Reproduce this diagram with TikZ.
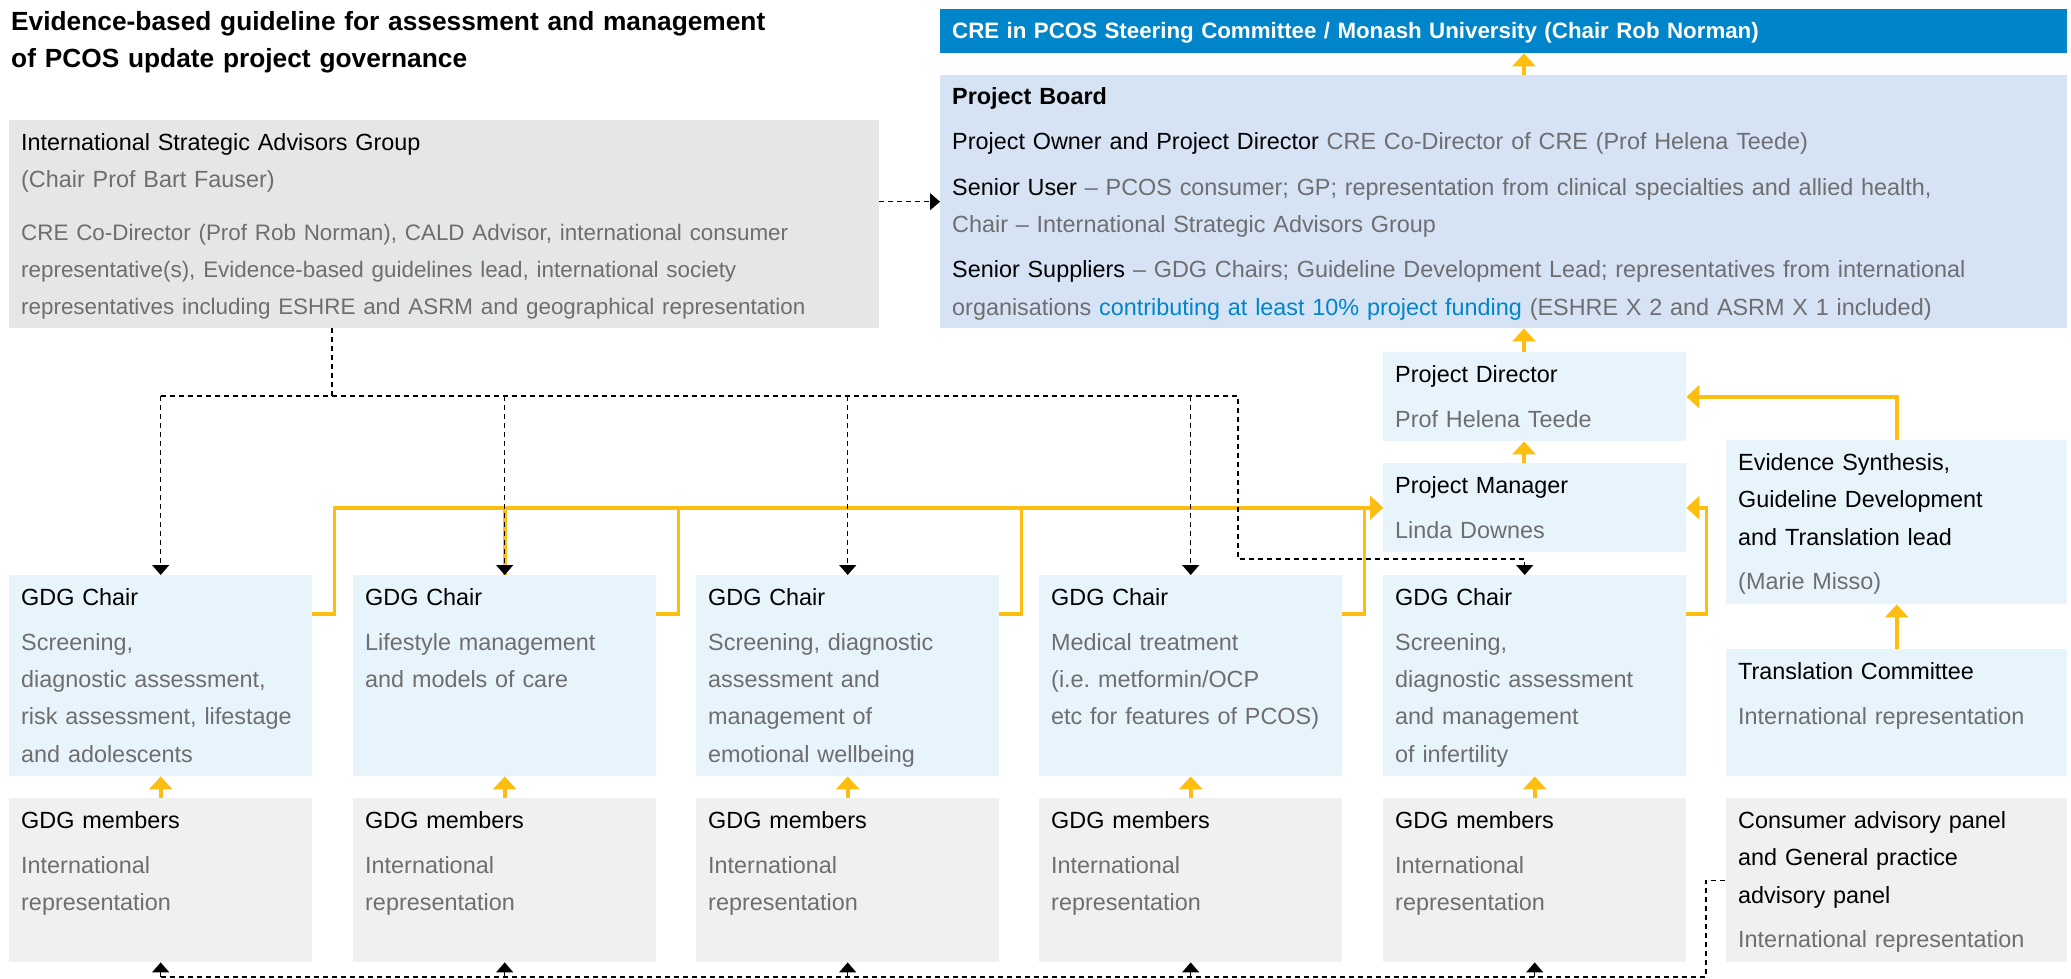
\documentclass[tikz,border=0pt]{standalone}
\usepackage{fontspec}
\setmainfont{Liberation Sans}
\usetikzlibrary{arrows.meta}

\definecolor{gold}{RGB}{254,190,16}
\definecolor{steerblue}{RGB}{0,133,202}
\definecolor{boardblue}{RGB}{214,227,244}
\definecolor{paleblue}{RGB}{232,244,252}
\definecolor{darkgrey}{RGB}{229,230,231}
\definecolor{lightgrey}{RGB}{239,240,242}
\definecolor{txtgrey}{RGB}{110,110,113}
\definecolor{linkblue}{RGB}{0,133,202}

\begin{document}
\begin{tikzpicture}[x=1pt, y=-1pt, font=\fontsize{23.4}{37.4}\selectfont,
		panel/.style={anchor=north west, inner xsep=12pt, inner ysep=0pt, align=left, text height=30pt},
		chair/.style={panel, fill=paleblue, text width=279pt, text depth=171pt},
		member/.style={panel, fill=lightgrey, text width=279pt, text depth=134pt},
		goldlink/.style={draw=gold, line width=3.6pt, -{Triangle[width=23pt,length=13pt]}},
		dashlink/.style={draw=black, line width=1.3pt, dash pattern=on 5pt off 4pt, -{Triangle[width=17pt,length=10pt]}}]
	   \useasboundingbox (0,0) rectangle (2071,978);
	   % title
	   \node [panel, inner xsep=0pt, text width=1000pt, text height=30pt, font=\bfseries\fontsize{26.3}{37}\selectfont] (title) at (11,0) {Evidence-based guideline for assessment and management\\ of PCOS update project governance};
	   % steering committee and board
	   \node [panel, fill=steerblue, text=white, text width=1103pt, text height=29pt, text depth=15pt, font=\bfseries\fontsize{22.3}{37.4}\selectfont] (steer) at (940,9) {CRE in PCOS Steering Committee / Monash University (Chair Rob Norman)};
	   \node [panel, fill=boardblue, text width=1103pt, text height=29pt, text depth=224pt] (board) at (940,75) {\textbf{Project Board}\\[8pt]
		Project Owner and Project Director {\color{txtgrey}CRE Co-Director of CRE (Prof Helena Teede)}\\[8pt]
		Senior User {\color{txtgrey}– PCOS consumer; GP; representation from clinical specialties and allied health,\\
		Chair – International Strategic Advisors Group}\\[8pt]
		Senior Suppliers {\color{txtgrey}– GDG Chairs; Guideline Development Lead; representatives from international\\
		organisations {\color{linkblue}contributing at least 10\% project funding} (ESHRE X 2 and ASRM X 1 included)}};
	   % advisors group
	   \node [panel, fill=darkgrey, text width=846pt, text depth=178pt] (isag) at (9,120) {International Strategic Advisors Group\\
		{\color{txtgrey}(Chair Prof Bart Fauser)\\[15pt]
		\fontsize{22.4}{37.4}\selectfont
		CRE Co-Director (Prof Rob Norman), CALD Advisor, international consumer\\
		representative(s), Evidence-based guidelines lead, international society\\
		representatives including ESHRE and ASRM and geographical representation}};
	   % director and manager
	   \node [panel, fill=paleblue, text width=279pt, text depth=59pt] (pd) at (1383,352) {Project Director\\[7.5pt]\color{txtgrey}Prof Helena Teede};
	   \node [panel, fill=paleblue, text width=279pt, text depth=59pt] (pm) at (1383,463) {Project Manager\\[7.5pt]\color{txtgrey}Linda Downes};
	   % right column
	   \node [panel, fill=paleblue, text width=317pt, text depth=134pt] (es) at (1726,440) {Evidence Synthesis,\\ Guideline Development\\ and Translation lead\\[7.5pt]\color{txtgrey}(Marie Misso)};
	   \node [panel, fill=paleblue, text width=317pt, text depth=97pt] (tc) at (1726,649) {Translation Committee\\[7.5pt]\color{txtgrey}International representation};
	   \node [panel, fill=lightgrey, text width=317pt, text depth=134pt] (cap) at (1726,798) {Consumer advisory panel\\ and General practice\\ advisory panel\\[7.5pt]\color{txtgrey}International representation};
	   % gdg chairs
	   \node [chair] (c1) at (9,575) {GDG Chair\\[7.5pt]\color{txtgrey}Screening,\\ diagnostic assessment,\\ risk assessment, lifestage\\ and adolescents};
	   \node [chair] (c2) at (353,575) {GDG Chair\\[7.5pt]\color{txtgrey}Lifestyle management\\ and models of care};
	   \node [chair] (c3) at (696,575) {GDG Chair\\[7.5pt]\color{txtgrey}Screening, diagnostic\\ assessment and\\ management of\\ emotional wellbeing};
	   \node [chair] (c4) at (1039,575) {GDG Chair\\[7.5pt]\color{txtgrey}Medical treatment\\ (i.e.\ metformin/OCP\\ etc for features of PCOS)};
	   \node [chair] (c5) at (1383,575) {GDG Chair\\[7.5pt]\color{txtgrey}Screening,\\ diagnostic assessment\\ and management\\ of infertility};
	   % gdg members
	   \node [member] (m1) at (9,798) {GDG members\\[7.5pt]\color{txtgrey}International\\ representation};
	   \node [member] (m2) at (353,798) {GDG members\\[7.5pt]\color{txtgrey}International\\ representation};
	   \node [member] (m3) at (696,798) {GDG members\\[7.5pt]\color{txtgrey}International\\ representation};
	   \node [member] (m4) at (1039,798) {GDG members\\[7.5pt]\color{txtgrey}International\\ representation};
	   \node [member] (m5) at (1383,798) {GDG members\\[7.5pt]\color{txtgrey}International\\ representation};
	   % reporting lines
	   \coordinate (spine) at (1524,0);
	   \draw [goldlink] (board.north -| spine) -- (steer.south -| spine);
	   \draw [goldlink] (pd.north -| spine) -- (board.south -| spine);
	   \draw [goldlink] (pm.north -| spine) -- (pd.south -| spine);
	   \draw [goldlink] (es.north) |- (pd.east);
	   \draw [goldlink] (tc.north) -- (es.south);
	   \draw [goldlink] ([yshift=-39pt]c1.north east) -- ++(22,0) |- (pm.west);
	   \draw [goldlink] ([yshift=-39pt]c2.north east) -- ++(22,0) |- (pm.west);
	   \draw [goldlink] ([yshift=-39pt]c3.north east) -- ++(22,0) |- (pm.west);
	   \draw [goldlink] ([yshift=-39pt]c4.north east) -- ++(22,0) |- (pm.west);
	   \draw [goldlink] ([yshift=-39pt]c5.north east) -- ++(20,0) |- (pm.east);
	   \draw [goldlink, -] (c2.north |- pm.west) -- (c2.north);
	   \draw [goldlink] (m1.north) -- (c1.south);
	   \draw [goldlink] (m2.north) -- (c2.south);
	   \draw [goldlink] (m3.north) -- (c3.south);
	   \draw [goldlink] (m4.north) -- (c4.south);
	   \draw [goldlink] (m5.north) -- (c5.south);
	   % advisory lines
	   \draw [dashlink] (isag.east |- board.west) -- (board.west);
	   \coordinate (split) at (332,396);
	   \coordinate (bend) at (1238,559);
	   \draw [dashlink, -] (isag.south -| split) -- (split);
	   \draw [dashlink] (c1.north |- split) -| (bend) -| ([xshift=-10pt]c5.north);
	   \draw [dashlink] (c1.north |- split) -- (c1.north);
	   \draw [dashlink] (c2.north |- split) -- (c2.north);
	   \draw [dashlink] (c3.north |- split) -- (c3.north);
	   \draw [dashlink] (c4.north |- split) -- (c4.north);
	   % consumer panel line
	   \coordinate (floor) at (1706,977);
	   \draw [dashlink, -] (m1.south |- floor) -- (floor) |- (cap.west);
	   \draw [dashlink] (m1.south |- floor) -- (m1.south);
	   \draw [dashlink] (m2.south |- floor) -- (m2.south);
	   \draw [dashlink] (m3.south |- floor) -- (m3.south);
	   \draw [dashlink] (m4.south |- floor) -- (m4.south);
	   \draw [dashlink] (m5.south |- floor) -- (m5.south);
\end{tikzpicture}
\end{document}
